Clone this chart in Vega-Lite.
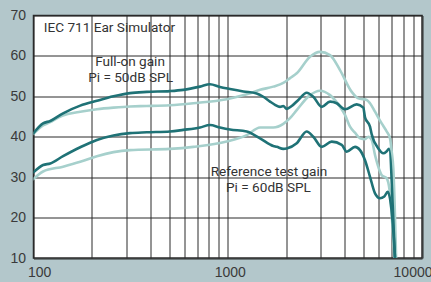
{
  "$schema": "https://vega.github.io/schema/vega-lite/v6.json",
  "width": 388.5,
  "height": 242.5,
  "autosize": {"type": "none"},
  "padding": {"left": 33.5, "top": 15.5, "right": 9, "bottom": 24},
  "background": "#b3c7cb",
  "config": {
    "view": {"fill": "white", "stroke": "#2a2a2a", "strokeWidth": 1.5},
    "axis": {"gridColor": "#2a2a2a", "gridOpacity": 1, "gridWidth": 1, "domain": false, "ticks": false, "labelFont": "Liberation Sans", "labelFontSize": 14, "labelColor": "#3a3a3a", "title": null}
  },
  "datasets": {
    "curves": [
      {"series": "full_light", "f": 100, "v": 40.7}, {"series": "full_light", "f": 112, "v": 42.8}, {"series": "full_light", "f": 122, "v": 43.6}, {"series": "full_light", "f": 135, "v": 44.8}, {"series": "full_light", "f": 150, "v": 45.6}, {"series": "full_light", "f": 174, "v": 46.2}, {"series": "full_light", "f": 212, "v": 46.8}, {"series": "full_light", "f": 258, "v": 47.2}, {"series": "full_light", "f": 314, "v": 47.5}, {"series": "full_light", "f": 383, "v": 47.6}, {"series": "full_light", "f": 504, "v": 47.8}, {"series": "full_light", "f": 665, "v": 48.3}, {"series": "full_light", "f": 988, "v": 49.3}, {"series": "full_light", "f": 1252, "v": 50.5}, {"series": "full_light", "f": 1466, "v": 51.6}, {"series": "full_light", "f": 1716, "v": 52.4}, {"series": "full_light", "f": 1932, "v": 53.3}, {"series": "full_light", "f": 2092, "v": 54.5}, {"series": "full_light", "f": 2265, "v": 55.7}, {"series": "full_light", "f": 2651, "v": 59.8}, {"series": "full_light", "f": 2985, "v": 61.0}, {"series": "full_light", "f": 3361, "v": 60.2}, {"series": "full_light", "f": 3784, "v": 56.5}, {"series": "full_light", "f": 4347, "v": 51.1}, {"series": "full_light", "f": 4699, "v": 49.5}, {"series": "full_light", "f": 5192, "v": 49.1}, {"series": "full_light", "f": 5399, "v": 48.3}, {"series": "full_light", "f": 5729, "v": 46.2}, {"series": "full_light", "f": 6201, "v": 43.3}, {"series": "full_light", "f": 6580, "v": 41.3}, {"series": "full_light", "f": 6843, "v": 39.6}, {"series": "full_light", "f": 6982, "v": 36.3}, {"series": "full_light", "f": 7117, "v": 32.2}, {"series": "full_light", "f": 7400, "v": 5},
      {"series": "ref_light", "f": 100, "v": 29.5}, {"series": "ref_light", "f": 112, "v": 31.4}, {"series": "ref_light", "f": 142, "v": 32.6}, {"series": "ref_light", "f": 174, "v": 33.8}, {"series": "ref_light", "f": 212, "v": 35.2}, {"series": "ref_light", "f": 258, "v": 36.2}, {"series": "ref_light", "f": 314, "v": 36.7}, {"series": "ref_light", "f": 504, "v": 37.0}, {"series": "ref_light", "f": 665, "v": 37.5}, {"series": "ref_light", "f": 988, "v": 38.8}, {"series": "ref_light", "f": 1252, "v": 40.4}, {"series": "ref_light", "f": 1466, "v": 42.3}, {"series": "ref_light", "f": 1716, "v": 42.3}, {"series": "ref_light", "f": 1932, "v": 43.2}, {"series": "ref_light", "f": 2092, "v": 44.6}, {"series": "ref_light", "f": 2265, "v": 46.6}, {"series": "ref_light", "f": 2651, "v": 50.3}, {"series": "ref_light", "f": 2985, "v": 51.4}, {"series": "ref_light", "f": 3361, "v": 50.3}, {"series": "ref_light", "f": 3784, "v": 47.4}, {"series": "ref_light", "f": 4014, "v": 45.4}, {"series": "ref_light", "f": 4260, "v": 42.5}, {"series": "ref_light", "f": 4520, "v": 41.0}, {"series": "ref_light", "f": 4795, "v": 39.6}, {"series": "ref_light", "f": 5088, "v": 39.4}, {"series": "ref_light", "f": 5292, "v": 40.0}, {"series": "ref_light", "f": 5509, "v": 39.2}, {"series": "ref_light", "f": 5729, "v": 35.5}, {"series": "ref_light", "f": 6078, "v": 31.4}, {"series": "ref_light", "f": 6201, "v": 30.5}, {"series": "ref_light", "f": 6580, "v": 29.7}, {"series": "ref_light", "f": 6800, "v": 27.0}, {"series": "ref_light", "f": 7300, "v": 5},
      {"series": "full_dark", "f": 100, "v": 40.9}, {"series": "full_dark", "f": 112, "v": 43.3}, {"series": "full_dark", "f": 122, "v": 43.9}, {"series": "full_dark", "f": 142, "v": 45.8}, {"series": "full_dark", "f": 174, "v": 47.7}, {"series": "full_dark", "f": 212, "v": 48.9}, {"series": "full_dark", "f": 258, "v": 50.0}, {"series": "full_dark", "f": 314, "v": 50.8}, {"series": "full_dark", "f": 383, "v": 51.1}, {"series": "full_dark", "f": 504, "v": 51.3}, {"series": "full_dark", "f": 590, "v": 51.6}, {"series": "full_dark", "f": 720, "v": 52.4}, {"series": "full_dark", "f": 810, "v": 53.0}, {"series": "full_dark", "f": 912, "v": 52.3}, {"series": "full_dark", "f": 1027, "v": 51.8}, {"series": "full_dark", "f": 1203, "v": 51.2}, {"series": "full_dark", "f": 1409, "v": 50.7}, {"series": "full_dark", "f": 1524, "v": 49.9}, {"series": "full_dark", "f": 1650, "v": 48.7}, {"series": "full_dark", "f": 1751, "v": 47.9}, {"series": "full_dark", "f": 1858, "v": 47.4}, {"series": "full_dark", "f": 1932, "v": 47.6}, {"series": "full_dark", "f": 2012, "v": 46.9}, {"series": "full_dark", "f": 2135, "v": 47.6}, {"series": "full_dark", "f": 2308, "v": 49.1}, {"series": "full_dark", "f": 2549, "v": 50.9}, {"series": "full_dark", "f": 2756, "v": 49.9}, {"series": "full_dark", "f": 3046, "v": 47.4}, {"series": "full_dark", "f": 3361, "v": 48.7}, {"series": "full_dark", "f": 3638, "v": 48.3}, {"series": "full_dark", "f": 4014, "v": 46.8}, {"series": "full_dark", "f": 4612, "v": 48.0}, {"series": "full_dark", "f": 4986, "v": 47.2}, {"series": "full_dark", "f": 5088, "v": 44.8}, {"series": "full_dark", "f": 5399, "v": 42.5}, {"series": "full_dark", "f": 5509, "v": 40.6}, {"series": "full_dark", "f": 5957, "v": 37.1}, {"series": "full_dark", "f": 6320, "v": 35.9}, {"series": "full_dark", "f": 6580, "v": 36.4}, {"series": "full_dark", "f": 6762, "v": 37.0}, {"series": "full_dark", "f": 7261, "v": 10}, {"series": "full_dark", "f": 7350, "v": 5},
      {"series": "ref_dark", "f": 100, "v": 31.2}, {"series": "ref_dark", "f": 112, "v": 33.0}, {"series": "ref_dark", "f": 122, "v": 33.4}, {"series": "ref_dark", "f": 142, "v": 35.2}, {"series": "ref_dark", "f": 174, "v": 37.4}, {"series": "ref_dark", "f": 212, "v": 39.2}, {"series": "ref_dark", "f": 258, "v": 40.3}, {"series": "ref_dark", "f": 314, "v": 40.9}, {"series": "ref_dark", "f": 383, "v": 41.1}, {"series": "ref_dark", "f": 504, "v": 41.3}, {"series": "ref_dark", "f": 590, "v": 41.7}, {"series": "ref_dark", "f": 720, "v": 42.3}, {"series": "ref_dark", "f": 810, "v": 42.9}, {"series": "ref_dark", "f": 912, "v": 42.3}, {"series": "ref_dark", "f": 1027, "v": 41.8}, {"series": "ref_dark", "f": 1252, "v": 41.3}, {"series": "ref_dark", "f": 1466, "v": 39.6}, {"series": "ref_dark", "f": 1716, "v": 37.7}, {"series": "ref_dark", "f": 1786, "v": 37.5}, {"series": "ref_dark", "f": 1932, "v": 37.0}, {"series": "ref_dark", "f": 2012, "v": 37.1}, {"series": "ref_dark", "f": 2265, "v": 38.4}, {"series": "ref_dark", "f": 2549, "v": 41.3}, {"series": "ref_dark", "f": 2756, "v": 40.0}, {"series": "ref_dark", "f": 3046, "v": 37.5}, {"series": "ref_dark", "f": 3429, "v": 38.8}, {"series": "ref_dark", "f": 3861, "v": 38.0}, {"series": "ref_dark", "f": 4096, "v": 36.3}, {"series": "ref_dark", "f": 4520, "v": 37.5}, {"series": "ref_dark", "f": 4795, "v": 36.7}, {"series": "ref_dark", "f": 5088, "v": 34.2}, {"series": "ref_dark", "f": 5399, "v": 30.1}, {"series": "ref_dark", "f": 5729, "v": 26.0}, {"series": "ref_dark", "f": 6078, "v": 24.8}, {"series": "ref_dark", "f": 6395, "v": 25.2}, {"series": "ref_dark", "f": 6658, "v": 26.4}, {"series": "ref_dark", "f": 7261, "v": 10}, {"series": "ref_dark", "f": 7350, "v": 5}
    ],
    "notes_left": [
      {"label": "IEC 711 Ear Simulator", "f": 113, "v": 66.9}
    ],
    "notes_center": [
      {"label": "Full-on gain", "f": 314, "v": 58.4},
      {"label": "Pi = 50dB SPL", "f": 316, "v": 54.5},
      {"label": "Reference test gain", "f": 1631, "v": 31.35},
      {"label": "Pi = 60dB SPL", "f": 1620, "v": 27.4}
    ]
  },
  "layer": [
    {
      "data": {"name": "curves"},
      "mark": {"type": "line", "interpolate": "monotone", "strokeWidth": 2.6, "clip": true, "strokeCap": "round", "strokeJoin": "round"},
      "encoding": {
        "x": {"field": "f", "type": "quantitative",
          "scale": {"type": "log", "domain": [100, 10000], "nice": false},
          "axis": {"values": [100, 200, 300, 400, 500, 600, 700, 800, 900, 1000, 2000, 3000, 4000, 5000, 6000, 7000, 8000, 9000, 10000],
            "labelExpr": "(datum.value == 100 || datum.value == 1000 || datum.value == 10000) ? format(datum.value, 'd') : ''",
            "labelFlush": true, "labelFlushOffset": 8, "labelOffset": 2, "labelPadding": 7, "grid": true}},
        "y": {"field": "v", "type": "quantitative",
          "scale": {"domain": [10, 70], "nice": false, "zero": false},
          "axis": {"values": [10, 20, 30, 40, 50, 60, 70], "labelPadding": 8, "grid": true}},
        "color": {"field": "series", "type": "nominal",
          "scale": {"domain": ["full_light", "ref_light", "full_dark", "ref_dark"], "range": ["#a6d0cc", "#a6d0cc", "#1f7276", "#1f7276"]},
          "legend": null},
        "order": {"field": "f", "type": "quantitative"}
      }
    },
    {
      "data": {"name": "notes_left"},
      "mark": {"type": "text", "align": "left", "baseline": "middle", "font": "Roboto", "fontSize": 13.6, "color": "#333333"},
      "encoding": {
        "x": {"field": "f", "type": "quantitative"},
        "y": {"field": "v", "type": "quantitative"},
        "text": {"field": "label"}
      }
    },
    {
      "data": {"name": "notes_center"},
      "mark": {"type": "text", "align": "center", "baseline": "middle", "font": "Roboto", "fontSize": 13.6, "color": "#333333"},
      "encoding": {
        "x": {"field": "f", "type": "quantitative"},
        "y": {"field": "v", "type": "quantitative"},
        "text": {"field": "label"}
      }
    }
  ]
}
